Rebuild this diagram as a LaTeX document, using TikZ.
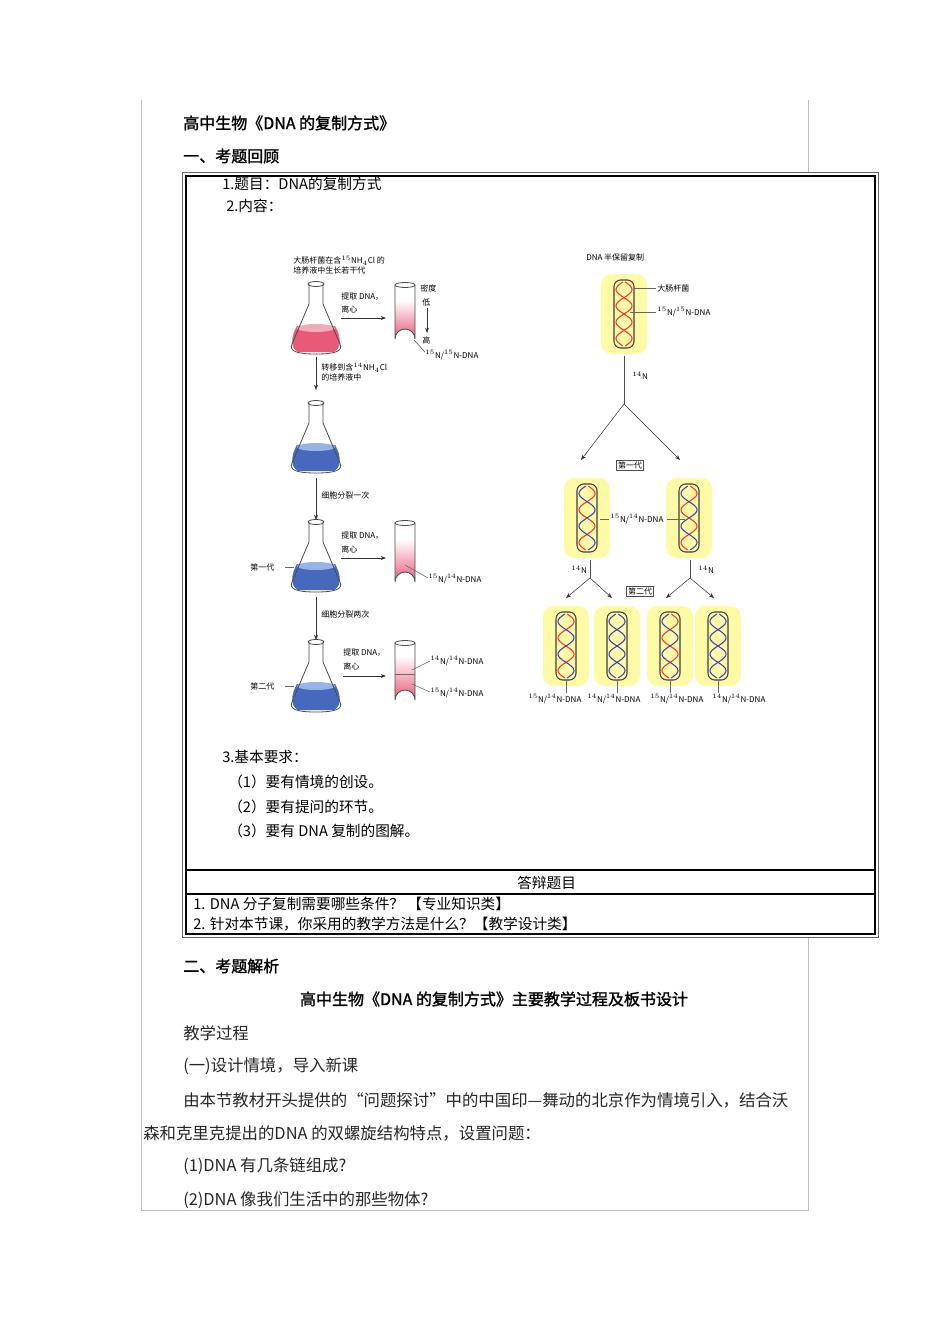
\documentclass[tikz,border=0pt]{standalone}
\usepackage{fontspec}
\setmainfont{Liberation Serif}
\newfontfamily\cjk{Noto Sans CJK SC}
\newfontfamily\cjkb[FakeBold=1.5]{Noto Sans CJK SC}
\usetikzlibrary{arrows.meta}
\definecolor{liqred}{RGB}{232,90,120}
\definecolor{liqredtop}{RGB}{245,170,185}
\definecolor{liqblue}{RGB}{70,105,190}
\definecolor{liqbluetop}{RGB}{150,180,230}
\tikzset{
 txt/.style={anchor=west,inner sep=0,font=\cjk\fontsize{11}{13}\selectfont},
 ptxt/.style={anchor=west,inner sep=0,font=\cjk\fontsize{12.3}{14}\selectfont,text=black!85},
 htxt/.style={anchor=west,inner sep=0,font=\cjkb\fontsize{12}{14}\selectfont},
 sm/.style={anchor=west,inner sep=0,font=\cjk\fontsize{6}{7}\selectfont},
 arr/.style={-{Stealth[length=4pt]},thin,black!80},
 frame/.style={draw=black!25,line width=0.5pt}
}
\newcommand\flask[4]{% x, ytop, liquid colour, surface colour
 \begin{scope}[shift={(#1,#2)}]
 \fill[#3] (-19,42) -- (19,42) .. controls (25,52) and (26,64) .. (18,68) -- (-18,68) .. controls (-26,64) and (-25,52) .. (-19,42) -- cycle;
 \fill[#4] (0,44) ellipse (19 and 4);
 \draw[black!70,line width=0.6pt] (-7,0) -- (-7,20) -- (-24,60) .. controls (-27,67) and (-20,70) .. (0,70) .. controls (20,70) and (27,67) .. (24,60) -- (7,20) -- (7,0);
 \draw[black!70,line width=0.6pt] (0,0) ellipse (8 and 2.5);
 \end{scope}}
\newcommand\tube[4]{% x, ytop, ybottom, fill start frac
 \begin{scope}[shift={(#1,0)}]
 \shade[top color=white,bottom color=liqred] (-10,{#2+(#3-#2)*#4}) -- (10,{#2+(#3-#2)*#4}) -- (10,#3-6) arc (0:-180:10) -- cycle;
 \draw[black!70,line width=0.6pt] (-10,#2) -- (-10,#3-6) arc (180:360:10) -- (10,#2);
 \draw[black!70,line width=0.6pt] (0,#2) ellipse (10 and 2.5);
 \end{scope}}
\newcommand\dnacell[4]{% x,y centre, colour A, colour B
 \begin{scope}[shift={(#1,#2)}]
 \fill[yellow!35,rounded corners=8pt] (-23,-40) rectangle (23,40);
 \draw[black!75,line width=0.8pt,rounded corners=5pt] (-10,-34) rectangle (10,34);
 \draw[#3,line width=0.8pt] plot[domain=-32:32,samples=60] ({8*sin(\x*11)},\x);
 \draw[#4,line width=0.8pt] plot[domain=-32:32,samples=60] ({-8*sin(\x*11)},\x);
 \end{scope}}
\begin{document}
\begin{tikzpicture}[x=0.75pt,y=-0.75pt]
\useasboundingbox (0,0) rectangle (950,1344);
% page frame
\draw[frame] (141,100) -- (141,1210) -- (808,1210) -- (808,100);
\node[htxt] (t0) at (183,123) {高中生物《DNA 的复制方式》};
\node[htxt] (t1) at (183,156) {一、考题回顾};
% inner box
\fill[white] (182,172) rectangle (878,937);
\draw[black!60] (182,172) rectangle (878,937);
\draw[black,line width=1pt] (186,176) rectangle (875,934);
\draw[black,line width=1.2pt] (186,870) -- (875,870);
\draw[black,line width=0.8pt] (186,894) -- (875,894);
\node[txt] (q0) at (517,883) {答辩题目};
\node[txt] (q1) at (193,904) {1. DNA 分子复制需要哪些条件？ 【专业知识类】};
\node[txt] (q2) at (193,924) {2. 针对本节课，你采用的教学方法是什么？【教学设计类】};
\node[txt] (c1) at (222,184) {1.题目：DNA的复制方式};
\node[txt] (c2) at (226,206) {2.内容：};
% left experiment
\node[sm,align=left] (lt) at (293,265) {大肠杆菌在含$^{15}$NH$_4$Cl 的\\培养液中生长若干代};
\flask{316}{284}{liqred}{liqredtop}
\tube{405}{285}{345}{0.25}
\node[sm] (x1) at (341,297) {提取 DNA，};
\node[sm] (x1b) at (341,309) {离心};
\coordinate (a1) at (341,318); \coordinate (b1) at (386,318);
\draw[arr] (a1) -- (b1);
\node[sm] (md) at (420,288) {密度};
\node[sm] (ml) at (422,302) {低};
\node[sm] (mh) at (422,340) {高};
\coordinate (m1) at (427,308); \coordinate (m2) at (427,333);
\draw[arr] (m1) -- (m2);
\node[sm] (l1) at (425,355) {$^{15}$N/$^{15}$N-DNA};
\draw[black!70] (414,340) -- (425,352);
\coordinate (v1) at (316,357); \coordinate (v2) at (316,390);
\draw[arr] (v1) -- (v2);
\node[sm,align=left] at (321,372) {转移到含$^{14}$NH$_4$Cl\\的培养液中};
\flask{316}{403}{liqblue}{liqbluetop}
\coordinate (v3) at (316,478); \coordinate (v4) at (316,520);
\draw[arr] (v3) -- (v4);
\node[sm] at (321,495) {细胞分裂一次};
\flask{316}{522}{liqblue}{liqbluetop}
\tube{405}{523}{588}{0.25}
\node[sm] at (341,536) {提取 DNA，};
\node[sm] at (341,549) {离心};
\coordinate (a2) at (341,558); \coordinate (b2) at (386,558);
\draw[arr] (a2) -- (b2);
\node[sm] at (250,567) {第一代};
\draw[black!60] (285,567) -- (294,567);
\draw[black!60] (405,565) -- (428,578);
\node[sm] at (428,579) {$^{15}$N/$^{14}$N-DNA};
\coordinate (v5) at (316,597); \coordinate (v6) at (316,640);
\draw[arr] (v5) -- (v6);
\node[sm] at (321,614) {细胞分裂两次};
\flask{316}{642}{liqblue}{liqbluetop}
\tube{405}{643}{706}{0.2}
\draw[black!60] (395,674) -- (415,674);
\node[sm] at (343,653) {提取 DNA，};
\node[sm] at (343,666) {离心};
\coordinate (a3) at (343,676); \coordinate (b3) at (386,676);
\draw[arr] (a3) -- (b3);
\node[sm] at (250,686) {第二代};
\draw[black!60] (285,686) -- (294,686);
\node[sm] at (430,661) {$^{14}$N/$^{14}$N-DNA};
\node[sm] at (430,693) {$^{15}$N/$^{14}$N-DNA};
\draw[black!60] (412,670) -- (430,661);
\draw[black!60] (412,684) -- (430,692);
% right: semi-conservative
\node[sm] at (586,257) {DNA 半保留复制};
\dnacell{624}{314}{red!80}{red!80}
\draw[black!60] (634,288) -- (656,288); \node[sm] at (657,288) {大肠杆菌};
\draw[black!60] (630,312) -- (656,312); \node[sm] at (657,312) {$^{15}$N/$^{15}$N-DNA};
\coordinate (s1) at (624,356); \coordinate (s2) at (624,404);
\draw[black!70,line width=0.6pt] (s1) -- (s2);
\node[sm] at (632,376) {$^{14}$N};
\coordinate (g1) at (581,460); \coordinate (g2) at (680,460);
\draw[arr] (s2) -- (g1); \draw[arr] (s2) -- (g2);
\node[draw=black!70,inner sep=1pt,font=\cjk\fontsize{6}{7}\selectfont] (d1) at (630,465) {第一代};
\dnacell{587}{518}{red!80}{blue!50!gray}
\dnacell{689}{518}{red!80}{blue!50!gray}
\node[sm] (l2) at (610,519) {$^{15}$N/$^{14}$N-DNA};
\draw[black!60] (600,519) -- (609,519); \draw[black!60] (667,519) -- (685,519);
\coordinate (p1) at (590,560); \coordinate (p2) at (590,578);
\coordinate (p3) at (690,560); \coordinate (p4) at (690,578);
\draw[black!70] (p1) -- (p2); \draw[black!70] (p3) -- (p4);
\node[sm] at (571,570) {$^{14}$N}; \node[sm] at (698,570) {$^{14}$N};
\coordinate (h1) at (566,598); \coordinate (h2) at (612,598);
\coordinate (h3) at (666,598); \coordinate (h4) at (714,598);
\draw[arr] (p2) -- (h1); \draw[arr] (p2) -- (h2);
\draw[arr] (p4) -- (h3); \draw[arr] (p4) -- (h4);
\node[draw=black!70,inner sep=1pt,font=\cjk\fontsize{6}{7}\selectfont] (d2) at (640,591) {第二代};
\dnacell{566}{646}{red!80}{blue!50!gray}
\dnacell{617}{646}{blue!50!gray}{blue!50!gray}
\dnacell{670}{646}{red!80}{blue!50!gray}
\dnacell{718}{646}{blue!50!gray}{blue!50!gray}
\foreach \xx in {566,617,670,718} \draw[black!60] (\xx,680) -- (\xx,693);
\node[sm] at (528,699) {$^{15}$N/$^{14}$N-DNA};
\node[sm] at (587,699) {$^{14}$N/$^{14}$N-DNA};
\node[sm] at (650,699) {$^{15}$N/$^{14}$N-DNA};
\node[sm] at (712,699) {$^{14}$N/$^{14}$N-DNA};
% requirements
\node[txt] at (222,757) {3.基本要求：};
\node[txt] at (228,782) {（1）要有情境的创设。};
\node[txt] at (228,807) {（2）要有提问的环节。};
\node[txt] at (228,831) {（3）要有 DNA 复制的图解。};
% analysis
\node[htxt] at (183,966) {二、考题解析};
\node[htxt,anchor=center] at (494,999) {高中生物《DNA 的复制方式》主要教学过程及板书设计};
\node[ptxt] at (183,1033) {教学过程};
\node[ptxt] at (183,1066) {(一)设计情境，导入新课};
\node[ptxt] at (183,1100) {由本节教材开头提供的“问题探讨”中的中国印—舞动的北京作为情境引入，结合沃};
\node[ptxt] at (143,1133) {森和克里克提出的DNA 的双螺旋结构特点，设置问题：};
\node[ptxt] at (183,1166) {(1)DNA 有几条链组成?};
\node[ptxt] at (183,1200) {(2)DNA 像我们生活中的那些物体?};
\end{tikzpicture}
\end{document}
